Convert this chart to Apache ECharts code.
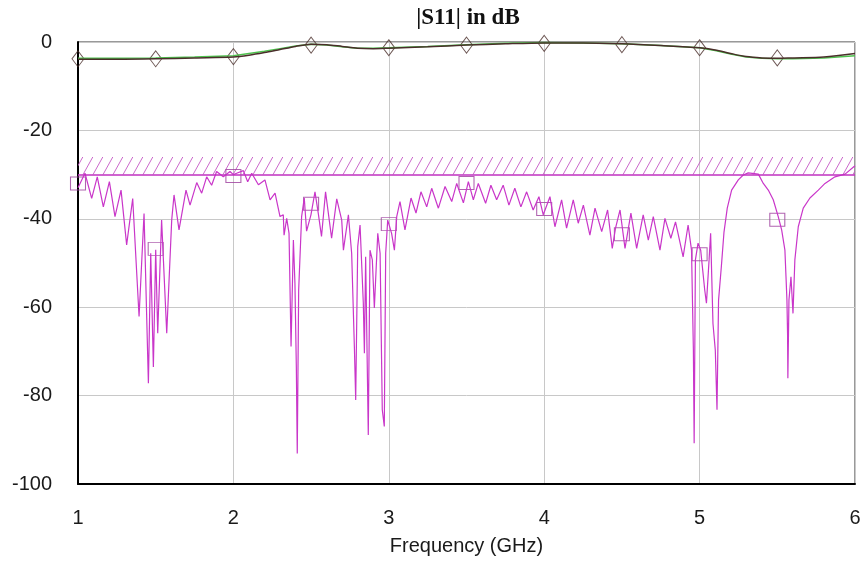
<!DOCTYPE html>
<html lang="en">
<head>
<meta charset="UTF-8">
<title>|S11| in dB</title>
<script src="https://cdn.jsdelivr.net/npm/echarts@6/dist/echarts.min.js"></script>
<style>
  html, body { margin: 0; padding: 0; background: #fff; }
  #main { width: 864px; height: 563px; }
</style>
</head>
<body>
<div id="main"></div>
<script type="text/javascript">
    // tick labels
    var xTicks = [1, 2, 3, 4, 5, 6];
    var yTicks = [0, -20, -40, -60, -80, -100];

    // |S11| (magenta trace), frequency in GHz / level in dB
    var s11Freq = [
        1.000, 1.045, 1.088, 1.124, 1.163, 1.202, 1.238, 1.277, 1.313, 1.352,
        1.393, 1.425, 1.453, 1.468, 1.485, 1.500, 1.513, 1.538, 1.571, 1.603,
        1.618, 1.650, 1.695, 1.721, 1.764, 1.796, 1.828, 1.860, 1.892, 1.935,
        1.978, 2.000, 2.021, 2.064, 2.092, 2.118, 2.161, 2.203, 2.236, 2.268,
        2.300, 2.321, 2.326, 2.343, 2.358, 2.371, 2.386, 2.396, 2.405, 2.411,
        2.420, 2.439, 2.456, 2.471, 2.499, 2.525, 2.546, 2.567, 2.593, 2.632,
        2.665, 2.697, 2.708, 2.740, 2.761, 2.779, 2.787, 2.800, 2.815, 2.836,
        2.843, 2.851, 2.868, 2.879, 2.894, 2.907, 2.929, 2.944, 2.958, 2.971,
        2.980, 2.993, 3.018, 3.036, 3.051, 3.072, 3.104, 3.143, 3.175, 3.207,
        3.244, 3.276, 3.319, 3.362, 3.405, 3.437, 3.480, 3.512, 3.544, 3.576,
        3.623, 3.657, 3.694, 3.736, 3.773, 3.811, 3.850, 3.887, 3.929, 3.966,
        3.994, 4.037, 4.069, 4.112, 4.144, 4.187, 4.219, 4.252, 4.294, 4.327,
        4.370, 4.408, 4.438, 4.459, 4.488, 4.520, 4.558, 4.595, 4.637, 4.670,
        4.702, 4.745, 4.777, 4.815, 4.845, 4.866, 4.894, 4.926, 4.948, 4.960,
        4.965, 4.973, 4.990, 5.007, 5.033, 5.044, 5.061, 5.071, 5.086, 5.101,
        5.112, 5.122, 5.140, 5.157, 5.178, 5.206, 5.249, 5.281, 5.313, 5.378,
        5.410, 5.442, 5.474, 5.506, 5.528, 5.549, 5.556, 5.562, 5.566, 5.568,
        5.575, 5.588, 5.601, 5.613, 5.635, 5.667, 5.710, 5.764, 5.807, 5.871,
        5.936, 6.000
    ];
    var s11Db = [
        -33.0, -29.7, -35.4, -30.5, -37.3, -31.6, -39.5, -33.5, -45.9, -35.4,
        -62.1, -38.8, -77.2, -47.8, -73.5, -47.0, -65.9, -40.3, -65.9, -40.3,
        -34.6, -42.5, -33.5, -36.9, -31.8, -34.2, -30.5, -32.4, -29.3, -30.5,
        -29.3, -30.0, -29.7, -29.1, -31.6, -29.7, -32.3, -31.2, -35.7, -34.2,
        -39.5, -39.1, -43.7, -39.9, -43.3, -68.9, -44.8, -54.6, -73.5, -93.1,
        -56.1, -39.5, -35.3, -42.8, -39.1, -33.9, -38.7, -44.0, -33.9, -44.4,
        -35.5, -40.3, -47.1, -39.1, -47.8, -69.7, -81.0, -46.3, -41.4, -59.1,
        -70.4, -48.6, -88.9, -47.1, -49.3, -60.2, -43.3, -47.8, -83.2, -87.0,
        -47.8, -40.3, -43.3, -47.1, -39.5, -36.1, -42.5, -35.3, -38.7, -33.9,
        -37.3, -33.1, -37.6, -32.7, -36.1, -32.0, -36.4, -31.6, -35.7, -32.0,
        -36.5, -32.4, -35.7, -32.4, -36.9, -33.1, -37.3, -33.9, -38.0, -35.0,
        -39.1, -35.0, -41.8, -35.7, -42.1, -35.7, -41.0, -36.9, -43.7, -37.6,
        -42.9, -38.0, -46.7, -42.1, -38.0, -46.7, -38.7, -46.7, -39.1, -44.8,
        -39.5, -47.1, -39.9, -44.4, -40.7, -44.1, -48.6, -41.4, -47.1, -69.7,
        -90.8, -49.3, -45.5, -47.1, -56.1, -59.1, -49.3, -43.3, -63.7, -69.7,
        -83.2, -58.4, -50.8, -43.0, -37.6, -33.5, -31.2, -30.1, -29.6, -29.9,
        -32.0, -33.5, -35.7, -39.5, -42.5, -47.1, -53.1, -58.4, -65.9, -76.1,
        -58.4, -53.1, -61.4, -49.3, -41.8, -37.6, -35.3, -33.5, -32.0, -30.5,
        -29.9, -28.0
    ];

    // square markers on the magenta trace
    var sqFreq = [1.0, 1.5, 2.0, 2.5, 3.0, 3.5, 4.0, 4.5, 5.0, 5.5];
    var sqDb = [-32.0, -46.8, -30.3, -36.6, -41.2, -31.9, -37.8, -43.5, -48.0, -40.2];

    // upper traces (dark with diamonds, green)
    var topFreq = [1.0, 1.25, 1.5, 1.75, 2.0, 2.1, 2.2, 2.3, 2.4, 2.5, 2.6, 2.7, 2.8, 2.9, 3.0,
                   3.25, 3.5, 3.75, 4.0, 4.25, 4.5, 4.75, 5.0, 5.1, 5.2, 5.3, 5.4, 5.5, 5.6, 5.8, 6.0];
    var darkDb = [-3.9, -3.9, -3.8, -3.6, -3.4, -3.0, -2.4, -1.7, -1.0, -0.5, -0.6, -1.0, -1.4, -1.5, -1.4,
                  -1.1, -0.7, -0.4, -0.2, -0.2, -0.4, -0.8, -1.3, -1.8, -2.6, -3.3, -3.6, -3.7, -3.6, -3.4, -2.6];
    var greenDb = [-3.7, -3.7, -3.6, -3.4, -3.1, -2.6, -2.1, -1.5, -0.9, -0.5, -0.7, -1.1, -1.4, -1.4, -1.3,
                   -1.0, -0.6, -0.3, -0.1, -0.2, -0.4, -0.8, -1.3, -1.9, -2.7, -3.4, -3.7, -3.8, -3.8, -3.6, -3.1];
    var dmFreq = [1.0, 1.5, 2.0, 2.5, 3.0, 3.5, 4.0, 4.5, 5.0, 5.5];
    var dmDb = [-3.8, -3.8, -3.3, -0.7, -1.3, -0.7, -0.3, -0.6, -1.3, -3.6];

    // spec band (hatched)
    var bandTop = -26;
    var bandBottom = -30;

    function pairs(xs, ys) {
        var out = [];
        for (var i = 0; i < xs.length; i++) out.push([xs[i], ys[i]]);
        return out;
    }

    // diagonal hatch tile
    var tile = document.createElement('canvas');
    tile.width = 10;
    tile.height = 18;
    var tctx = tile.getContext('2d');
    tctx.strokeStyle = '#c456c4';
    tctx.lineWidth = 0.9;
    for (var k = -1; k <= 1; k++) {
        tctx.beginPath();
        tctx.moveTo(k * 10, 18);
        tctx.lineTo(k * 10 + 10, 0);
        tctx.stroke();
    }

    var myChart = echarts.init(document.getElementById('main'), null, {renderer: 'canvas'});
    var labelFont = {fontFamily: 'Liberation Sans', fontSize: 20, color: '#1a1a1a'};

    myChart.setOption({
        animation: false,
        backgroundColor: '#fff',
        title: {
            text: '|S11| in dB',
            left: 463,
            top: 2,
            textAlign: 'center',
            textStyle: {fontFamily: 'Liberation Serif', fontWeight: 'bold', fontSize: 23, color: '#111'}
        },
        grid: {
            left: 78, right: 9, top: 42, bottom: 79,
            containLabel: false,
            outerBoundsMode: 'none',
            show: true,
            borderColor: '#333',
            borderWidth: 1
        },
        xAxis: {
            type: 'value',
            min: xTicks[0],
            max: xTicks[xTicks.length - 1],
            interval: 1,
            name: 'Frequency (GHz)',
            nameLocation: 'middle',
            nameGap: 52,
            nameTextStyle: labelFont,
            axisLine: {show: true, onZero: false, lineStyle: {color: '#000', width: 2}},
            axisTick: {show: false},
            axisLabel: Object.assign({margin: 24}, labelFont),
            splitLine: {show: true, lineStyle: {color: '#c8c8c8', width: 1}}
        },
        yAxis: {
            type: 'value',
            min: yTicks[yTicks.length - 1],
            max: yTicks[0],
            interval: 20,
            axisLine: {show: true, onZero: false, lineStyle: {color: '#000', width: 2}},
            axisTick: {show: false},
            axisLabel: Object.assign({margin: 26}, labelFont),
            splitLine: {show: true, lineStyle: {color: '#c8c8c8', width: 1}}
        },
        series: [
            {
                name: 'band',
                type: 'line',
                data: [],
                silent: true,
                markArea: {
                    silent: true,
                    itemStyle: {color: {image: tile, repeat: 'repeat'}, borderWidth: 0},
                    data: [[{xAxis: 1, yAxis: bandTop}, {xAxis: 6, yAxis: bandBottom}]]
                },
                markLine: {
                    silent: true,
                    symbol: 'none',
                    label: {show: false},
                    lineStyle: {color: '#c030c0', type: 'solid', width: 1.5},
                    data: [{yAxis: bandBottom}]
                }
            },
            {
                name: 'green',
                type: 'line',
                data: pairs(topFreq, greenDb),
                symbol: 'none',
                lineStyle: {color: '#4ec24e', width: 1.5}
            },
            {
                name: 'dark',
                type: 'line',
                data: pairs(topFreq, darkDb),
                symbol: 'none',
                smooth: 0.3,
                lineStyle: {color: '#4a2e2a', width: 1.5}
            },
            {
                name: 'diamonds',
                type: 'scatter',
                data: pairs(dmFreq, dmDb),
                symbol: 'diamond',
                symbolSize: [12, 16],
                itemStyle: {color: 'rgba(255,255,255,0)', borderColor: '#4a2e2a', borderWidth: 1}
            },
            {
                name: 'S11',
                type: 'line',
                data: pairs(s11Freq, s11Db),
                symbol: 'none',
                lineStyle: {color: '#c936c9', width: 1.2}
            },
            {
                name: 'squares',
                type: 'scatter',
                data: pairs(sqFreq, sqDb),
                symbol: 'rect',
                symbolSize: [15, 13],
                itemStyle: {color: 'rgba(255,255,255,0)', borderColor: '#9c3c9c', borderWidth: 1}
            }
        ]
    });
</script>
</body>
</html>
